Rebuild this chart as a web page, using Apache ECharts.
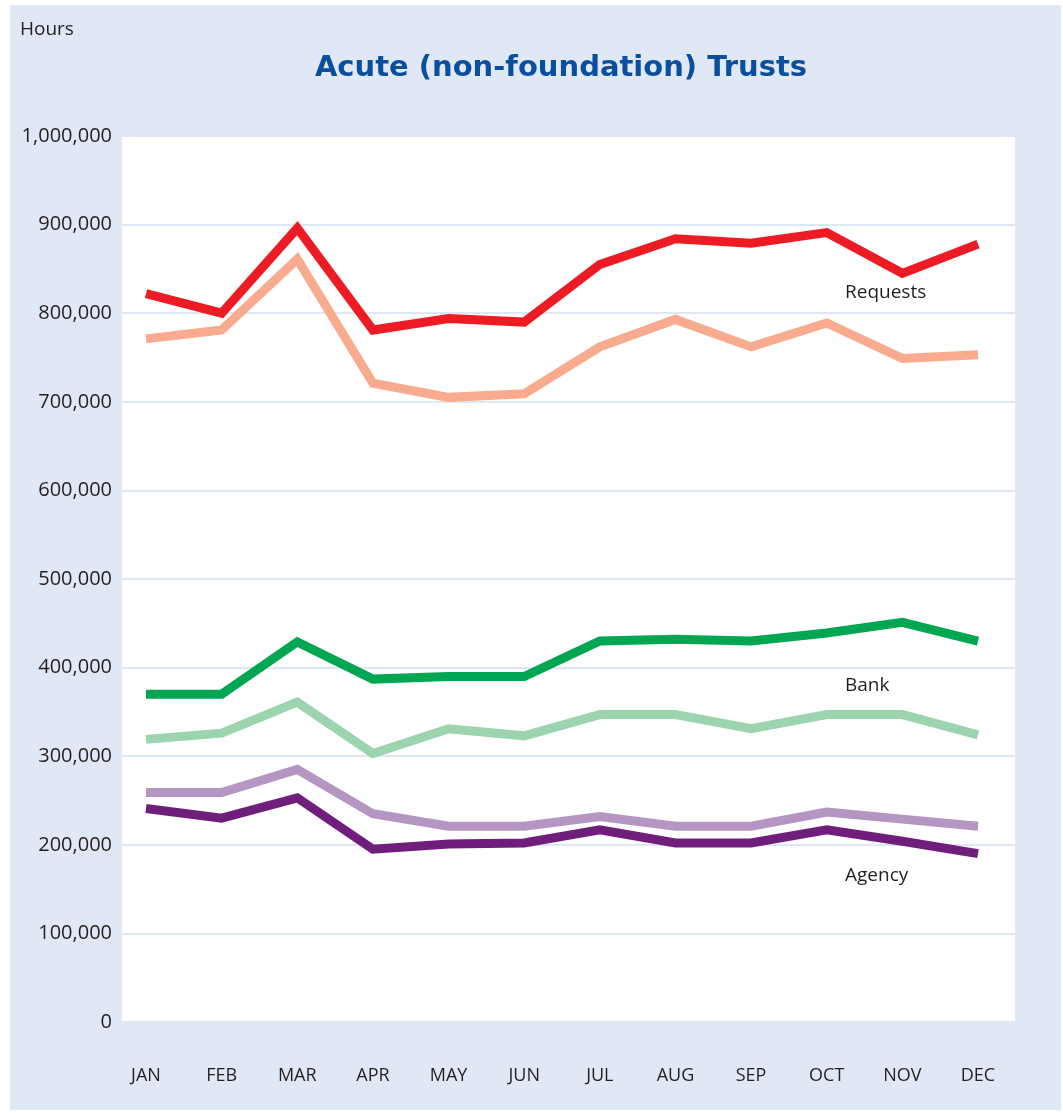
<!DOCTYPE html>
<html>
<head>
<meta charset="utf-8">
<style>
html,body{margin:0;padding:0;background:#ffffff;}
#chart{width:1063px;height:1113px;}
</style>
<script src="https://cdn.jsdelivr.net/npm/echarts@6/dist/echarts.min.js"></script>
</head>
<body>
<div id="chart"></div>
<script>
// ---- data ----
var months = ['JAN','FEB','MAR','APR','MAY','JUN','JUL','AUG','SEP','OCT','NOV','DEC'];
var requestsDark  = [822000, 800000, 896000, 781000, 794000, 790000, 855000, 884000, 879000, 891000, 845000, 878000];
var requestsLight = [771000, 781000, 861000, 721000, 705000, 709000, 762000, 793000, 762000, 789000, 749000, 753000];
var bankDark      = [370000, 370000, 429000, 387000, 390000, 390000, 430000, 432000, 430000, 439000, 451000, 430000];
var bankLight     = [319000, 326000, 361000, 303000, 331000, 323000, 347000, 347000, 331000, 347000, 347000, 324000];
var agencyLight   = [259000, 259000, 285000, 235000, 221000, 221000, 232000, 221000, 221000, 237000, 229000, 221000];
var agencyDark    = [241000, 230000, 253000, 195000, 201000, 202000, 217000, 202000, 202000, 217000, 204000, 190000];
var yMin = 0, yMax = 1000000, yStep = 100000;
var titleText = 'Acute (non-foundation) Trusts';
var unitText = 'Hours';
var seriesLabels = ['Requests', 'Bank', 'Agency'];

var FONT = '"Open Sans", "Noto Sans", sans-serif';
var TXT = '#231f20';

var chart = echarts.init(document.getElementById('chart'));

function line(name, data, color) {
  return {
    name: name, type: 'line', xAxisIndex: 1, yAxisIndex: 1,
    data: data, symbol: 'none', smooth: false, animation: false,
    lineStyle: { color: color, width: 9, join: 'miter', cap: 'butt' }
  };
}

var option = {
  backgroundColor: '#ffffff',
  animation: false,
  graphic: [
    { type: 'rect', z: -10, shape: { x: 10, y: 5, width: 1051, height: 1105 }, style: { fill: '#e0e8f5' } },
    { type: 'text', left: 20, top: 20, style: { text: unitText, font: '19px ' + FONT, fill: TXT } },
    { type: 'text', x: 561, y: 68, z: 50, style: { text: titleText, font: 'bold 29px "DejaVu Sans", sans-serif', fill: '#0a4f9e', align: 'center', verticalAlign: 'middle' } },
    { type: 'text', left: 845, top: 283, z: 50, style: { text: seriesLabels[0], font: '19px ' + FONT, fill: TXT } },
    { type: 'text', left: 845, top: 676, z: 50, style: { text: seriesLabels[1], font: '19px ' + FONT, fill: TXT } },
    { type: 'text', left: 845, top: 866, z: 50, style: { text: seriesLabels[2], font: '19px ' + FONT, fill: TXT } }
  ],
  grid: [
    { left: 122, right: 48, top: 136, bottom: 91, show: true, backgroundColor: '#ffffff', borderWidth: 0 },
    { left: 146, right: 85, top: 136, bottom: 91 }
  ],
  xAxis: [
    { type: 'category', gridIndex: 0, data: months, show: false },
    { type: 'category', gridIndex: 1, data: months, boundaryGap: false,
      axisLine: { show: false }, axisTick: { show: false }, splitLine: { show: false },
      axisLabel: { fontFamily: FONT, fontSize: 18, color: TXT, margin: 45 } }
  ],
  yAxis: [
    { type: 'value', gridIndex: 0, min: yMin, max: yMax, interval: yStep,
      axisLine: { show: false }, axisTick: { show: false },
      axisLabel: { fontFamily: FONT, fontSize: 20, color: TXT, margin: 10,
        formatter: function (v) { return v.toLocaleString('en-US'); } },
      splitLine: { show: true, lineStyle: { color: '#dfe7f3', width: 2 } } },
    { type: 'value', gridIndex: 1, min: yMin, max: yMax, interval: yStep, show: false,
      splitLine: { show: false } }
  ],
  series: [
    line('Requests (filled)', requestsLight, '#f9ab90'),
    line('Requests', requestsDark, '#ed1c24'),
    line('Bank (filled)', bankLight, '#9dd4b0'),
    line('Bank', bankDark, '#00a651'),
    line('Agency (filled)', agencyLight, '#b595c1'),
    line('Agency', agencyDark, '#701e7b')
  ]
};
chart.setOption(option);
</script>
</body>
</html>
